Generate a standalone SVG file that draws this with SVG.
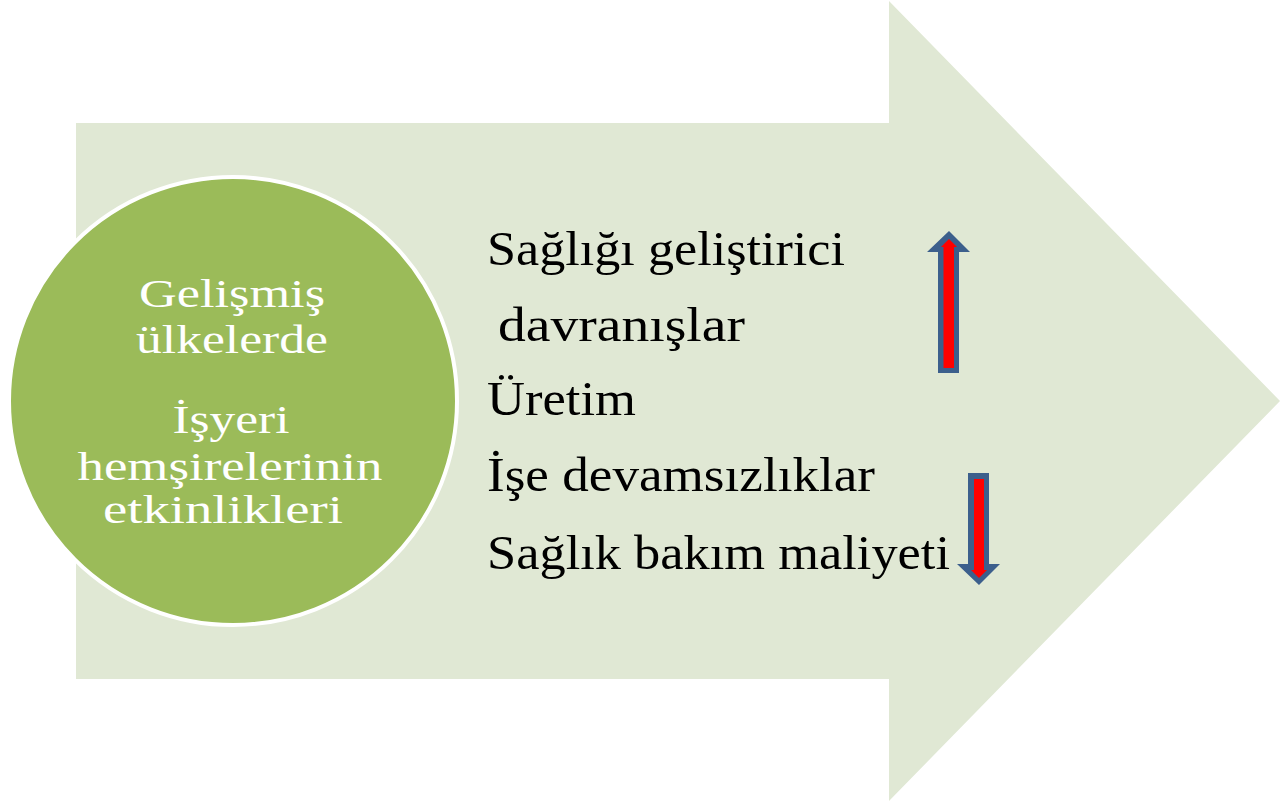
<svg xmlns="http://www.w3.org/2000/svg" width="1280" height="803" viewBox="0 0 1280 803">
<style>
.big{fill:#E0E8D4}
.circ{fill:#9BBB59;stroke:#FFFFFF;stroke-width:4}
.ct{font-family:"Liberation Serif","DejaVu Serif",serif;font-size:40px;fill:#FFFFFF;text-anchor:middle}
.rt{font-family:"Liberation Serif","DejaVu Serif",serif;font-size:48px;fill:#000000}
.ao{fill:#3C5F8C}
.ai{fill:#FF0000}
</style>
<rect width="1280" height="803" fill="#FFFFFF"/>
<g id="big-arrow">
<polygon class="big" points="76,123 889,123 889,1 1280,401 889,801 889,679 76,679"/>
</g>
<g id="circle-node">
<circle class="circ" cx="233" cy="401" r="224"/>
<text class="ct" x="232" y="307" textLength="186" lengthAdjust="spacingAndGlyphs">Gelişmiş</text>
<text class="ct" x="232" y="353" textLength="192" lengthAdjust="spacingAndGlyphs">ülkelerde</text>
<text class="ct" x="231" y="433" textLength="117" lengthAdjust="spacingAndGlyphs">İşyeri</text>
<text class="ct" x="230" y="480" textLength="305" lengthAdjust="spacingAndGlyphs">hemşirelerinin</text>
<text class="ct" x="223" y="523" textLength="240" lengthAdjust="spacingAndGlyphs">etkinlikleri</text>
</g>
<g id="list-node">
<text class="rt" x="487" y="265" textLength="358" lengthAdjust="spacingAndGlyphs">Sağlığı geliştirici</text>
<text class="rt" x="498" y="341" textLength="247" lengthAdjust="spacingAndGlyphs">davranışlar</text>
<text class="rt" x="487" y="415" textLength="149" lengthAdjust="spacingAndGlyphs">Üretim</text>
<text class="rt" x="487" y="491" textLength="388" lengthAdjust="spacingAndGlyphs">İşe devamsızlıklar</text>
<text class="rt" x="487" y="569" textLength="463" lengthAdjust="spacingAndGlyphs">Sağlık bakım maliyeti</text>
</g>
<g id="connectors">
<g id="up-arrow">
<polygon class="ao" points="949,231 927,252 938,252 938,373 959,373 959,252 970,252"/>
<polygon class="ai" points="949,239 941,247 943.5,247 943.5,368 954,368 954,247 957,247"/>
</g>
<g id="down-arrow">
<polygon class="ao" points="968,473 989,473 989,564 1000,564 979,585 957,564 968,564"/>
<polygon class="ai" points="974,479 984,479 984,570 987,570 979,578 971,570 974,570"/>
</g>
</g>
</svg>
